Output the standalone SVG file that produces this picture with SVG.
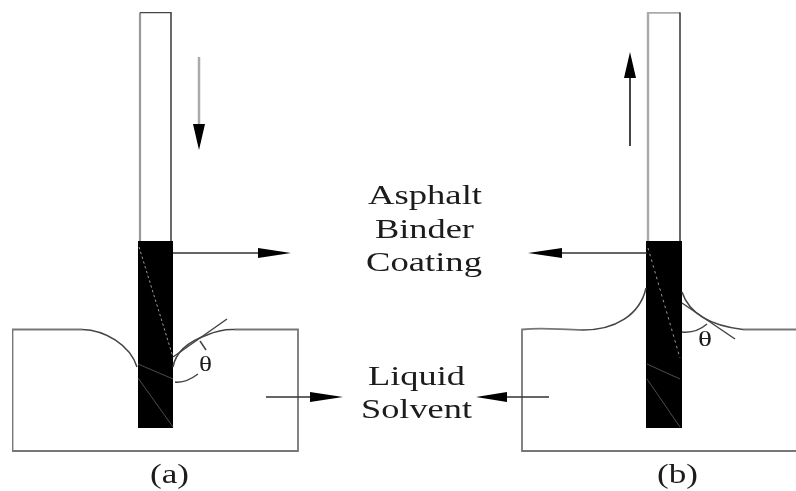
<svg xmlns="http://www.w3.org/2000/svg" width="796" height="491" viewBox="0 0 796 491">
<style>
.t{font-family:"Liberation Serif","Times New Roman",serif;font-size:28px;fill:#1a1a1a;text-anchor:start}
.o{fill:none;stroke:#777;stroke-width:1.800}
.d{fill:none;stroke:#333;stroke-width:1.300}
.w{fill:none;stroke:#555;stroke-width:0.900}
.h{fill:#000;stroke:none}
.m{fill:none;stroke:#444;stroke-width:1.500}
</style>
<defs><filter id="soft" x="0" y="0" width="100%" height="100%"><feGaussianBlur stdDeviation="0.45"/></filter></defs>
<rect width="796" height="491" fill="#fff"/>
<g filter="url(#soft)">
<g id="tank-a"><path class="o" d="M82 329.500H12.500V451H298V329.500H235"/></g>
<g id="tank-b"><path class="o" d="M796 329.500H743M583 330C560 330 545 327 522 329.500V451H796"/></g>
<g id="rod-a">
<path d="M140 241V12.500" fill="none" stroke="#999" stroke-width="2.200"/>
<path d="M140 12.500H171V241" fill="none" stroke="#444" stroke-width="1.600"/>
<rect x="138" y="241" width="35" height="187" fill="#000"/>
<path d="M139 247L173 357" stroke="#999" stroke-width="1" stroke-dasharray="2.500 2.500" fill="none"/>
<path class="w" d="M138 364L173 379M138 378L173 427"/>
</g>
<g id="rod-b">
<path d="M648 241V12.500H680" fill="none" stroke="#aaa" stroke-width="2.400"/>
<path d="M680 12.500V241" fill="none" stroke="#111" stroke-width="1.300"/>
<rect x="646" y="241" width="36" height="187" fill="#000"/>
<path d="M648 248L680 358" stroke="#999" stroke-width="1" stroke-dasharray="2.500 3.500" fill="none"/>
<path class="w" d="M647 364L680 379M647 379L680 427"/>
</g>
<g id="connectors">
<path d="M199 57V126" stroke="#aaa" stroke-width="2.500" fill="none"/>
<path class="h" d="M199 150L193 124H205Z"/>
<path d="M630 146V76" stroke="#444" stroke-width="2" fill="none"/>
<path class="h" d="M630 52L624 78H636Z"/>
<path class="d" d="M173 253H262"/><path class="h" d="M291 253L258 248V258Z"/>
<path class="d" d="M266 397H314"/><path class="h" d="M343 397L310 392V402Z"/>
<path class="d" d="M647 253H558"/><path class="h" d="M528 253L562 248V258Z"/>
<path class="d" d="M549 397H499"/><path class="h" d="M476 397L507 392V402Z"/>
</g>
<g id="meniscus-a">
<path class="m" d="M82 329.500C105 330 130 345 137 367"/>
<path class="m" d="M173 367C176 350 190 341 207 335C216 331 225 329 235 329.500"/>
<path class="m" d="M173 357L227 319"/>
<path class="m" d="M206 350L200 341"/>
<path class="m" d="M198 374C190 380 183 383 175 382"/>
</g>
<g id="meniscus-b">
<path class="m" d="M583 330C615 330 640 315 646 288"/>
<path class="m" d="M682 292C688 310 705 325 743 329.500"/>
<path class="m" d="M682 303L735 339"/>
<path class="m" d="M682 332C692 333 700 330 707 324"/>
</g>
<g id="labels">
<text class="t" x="368" y="204" textLength="114" lengthAdjust="spacingAndGlyphs">Asphalt</text>
<text class="t" x="375" y="238" textLength="99" lengthAdjust="spacingAndGlyphs">Binder</text>
<text class="t" x="366" y="271" textLength="116" lengthAdjust="spacingAndGlyphs">Coating</text>
<text class="t" x="368" y="385" textLength="97" lengthAdjust="spacingAndGlyphs">Liquid</text>
<text class="t" x="361" y="418" textLength="111" lengthAdjust="spacingAndGlyphs">Solvent</text>
<text class="t" x="150" y="483" textLength="39" lengthAdjust="spacingAndGlyphs">(a)</text>
<text class="t" x="657" y="483" textLength="41" lengthAdjust="spacingAndGlyphs">(b)</text>
<text class="t" x="199" y="371" textLength="13" lengthAdjust="spacingAndGlyphs" style="font-size:22px">θ</text>
<text class="t" x="698" y="346" textLength="14" lengthAdjust="spacingAndGlyphs" style="font-size:22px">θ</text>
</g>
</g>
</svg>
